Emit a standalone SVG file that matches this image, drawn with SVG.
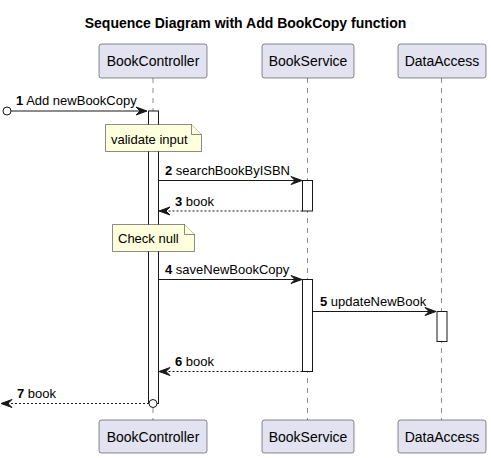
<svg xmlns="http://www.w3.org/2000/svg" width="491" height="458" viewBox="0 0 491 458">
<style>
text{font-family:"Liberation Sans",Arial,sans-serif;fill:#000}
.title{font-size:14px;font-weight:bold}
.part rect{fill:#E2E2F0;stroke:#181818;stroke-width:0.5}
.part text{font-size:14px}
.life{stroke:#181818;stroke-width:0.5;stroke-dasharray:5,5}
.act{fill:#FFFFFF;stroke:#181818;stroke-width:1}
.note path{fill:#FEFFDD;stroke:#181818;stroke-width:0.5}
.note text{font-size:13px}
.msg{stroke:#181818;stroke-width:1;fill:none}
.ret{stroke:#181818;stroke-width:1;fill:none;stroke-dasharray:2,2}
.lbl{font-size:13px}
.num{font-weight:bold}
.head{fill:#181818;stroke:#181818;stroke-width:1}
</style>
<rect width="491" height="458" fill="#FFFFFF"/>
<text class="title" x="245.5" y="28" text-anchor="middle">Sequence Diagram with Add BookCopy function</text>

<g id="lifelines">
<line class="life" x1="153" y1="78" x2="153" y2="420"/>
<line class="life" x1="307.5" y1="78" x2="307.5" y2="420"/>
<line class="life" x1="441.5" y1="78" x2="441.5" y2="420"/>
</g>

<g id="BookController" class="part">
<rect x="99" y="44" width="108" height="34" rx="2.5"/>
<text x="153" y="66" text-anchor="middle">BookController</text>
<rect x="99" y="420" width="108" height="33" rx="2.5"/>
<text x="153" y="442" text-anchor="middle">BookController</text>
</g>
<g id="BookService" class="part">
<rect x="262" y="44" width="92" height="34" rx="2.5"/>
<text x="308" y="66" text-anchor="middle">BookService</text>
<rect x="262" y="420" width="92" height="33" rx="2.5"/>
<text x="308" y="442" text-anchor="middle">BookService</text>
</g>
<g id="DataAccess" class="part">
<rect x="398" y="44" width="88" height="34" rx="2.5"/>
<text x="442" y="66" text-anchor="middle">DataAccess</text>
<rect x="398" y="420" width="88" height="33" rx="2.5"/>
<text x="442" y="442" text-anchor="middle">DataAccess</text>
</g>

<g id="activations">
<rect class="act" x="148.5" y="111" width="10" height="292.5"/>
<rect class="act" x="302.5" y="180.5" width="10" height="30.5"/>
<rect class="act" x="302.5" y="279.5" width="10" height="92"/>
<rect class="act" x="437" y="311.5" width="10" height="30"/>
</g>

<g id="note1" class="note">
<path d="M105.5,124.5 H191.5 L201.5,134.5 V151.5 H105.5 Z"/>
<path d="M191.5,124.5 V134.5 H201.5"/>
<text x="111" y="144">validate input</text>
</g>
<g id="note2" class="note">
<path d="M112.5,224.5 H184.5 L194.5,234.5 V251.5 H112.5 Z"/>
<path d="M184.5,224.5 V234.5 H194.5"/>
<text x="118" y="243">Check null</text>
</g>

<g id="connectors">
<circle cx="7" cy="111" r="4" fill="#FFFFFF" stroke="#181818" stroke-width="1"/>
<line class="msg" x1="11" y1="111" x2="146" y2="111"/>
<polygon class="head" points="136,107 147,111 136,115 140,111"/>
<text class="lbl" x="16" y="105"><tspan class="num">1</tspan> Add newBookCopy</text>

<line class="msg" x1="158.5" y1="180.5" x2="301" y2="180.5"/>
<polygon class="head" points="291,176.5 302,180.5 291,184.5 295,180.5"/>
<text class="lbl" x="165" y="175"><tspan class="num">2</tspan> searchBookByISBN</text>

<line class="ret" x1="302.5" y1="211" x2="160" y2="211"/>
<polygon class="head" points="170,207 159,211 170,215 166,211"/>
<text class="lbl" x="175" y="206"><tspan class="num">3</tspan> book</text>

<line class="msg" x1="158.5" y1="279.5" x2="301" y2="279.5"/>
<polygon class="head" points="291,275.5 302,279.5 291,283.5 295,279.5"/>
<text class="lbl" x="165" y="274"><tspan class="num">4</tspan> saveNewBookCopy</text>

<line class="msg" x1="312.5" y1="311.5" x2="435" y2="311.5"/>
<polygon class="head" points="425,307.5 436,311.5 425,315.5 429,311.5"/>
<text class="lbl" x="320" y="306"><tspan class="num">5</tspan> updateNewBook</text>

<line class="ret" x1="302.5" y1="371.5" x2="160" y2="371.5"/>
<polygon class="head" points="170,367.5 159,371.5 170,375.5 166,371.5"/>
<text class="lbl" x="175" y="366"><tspan class="num">6</tspan> book</text>

<line class="ret" x1="149" y1="403.5" x2="3" y2="403.5"/>
<polygon class="head" points="12,399.5 1,403.5 12,407.5 8,403.5"/>
<circle cx="153" cy="403.5" r="4" fill="#FFFFFF" stroke="#181818" stroke-width="1"/>
<text class="lbl" x="17" y="398"><tspan class="num">7</tspan> book</text>
</g>
</svg>
